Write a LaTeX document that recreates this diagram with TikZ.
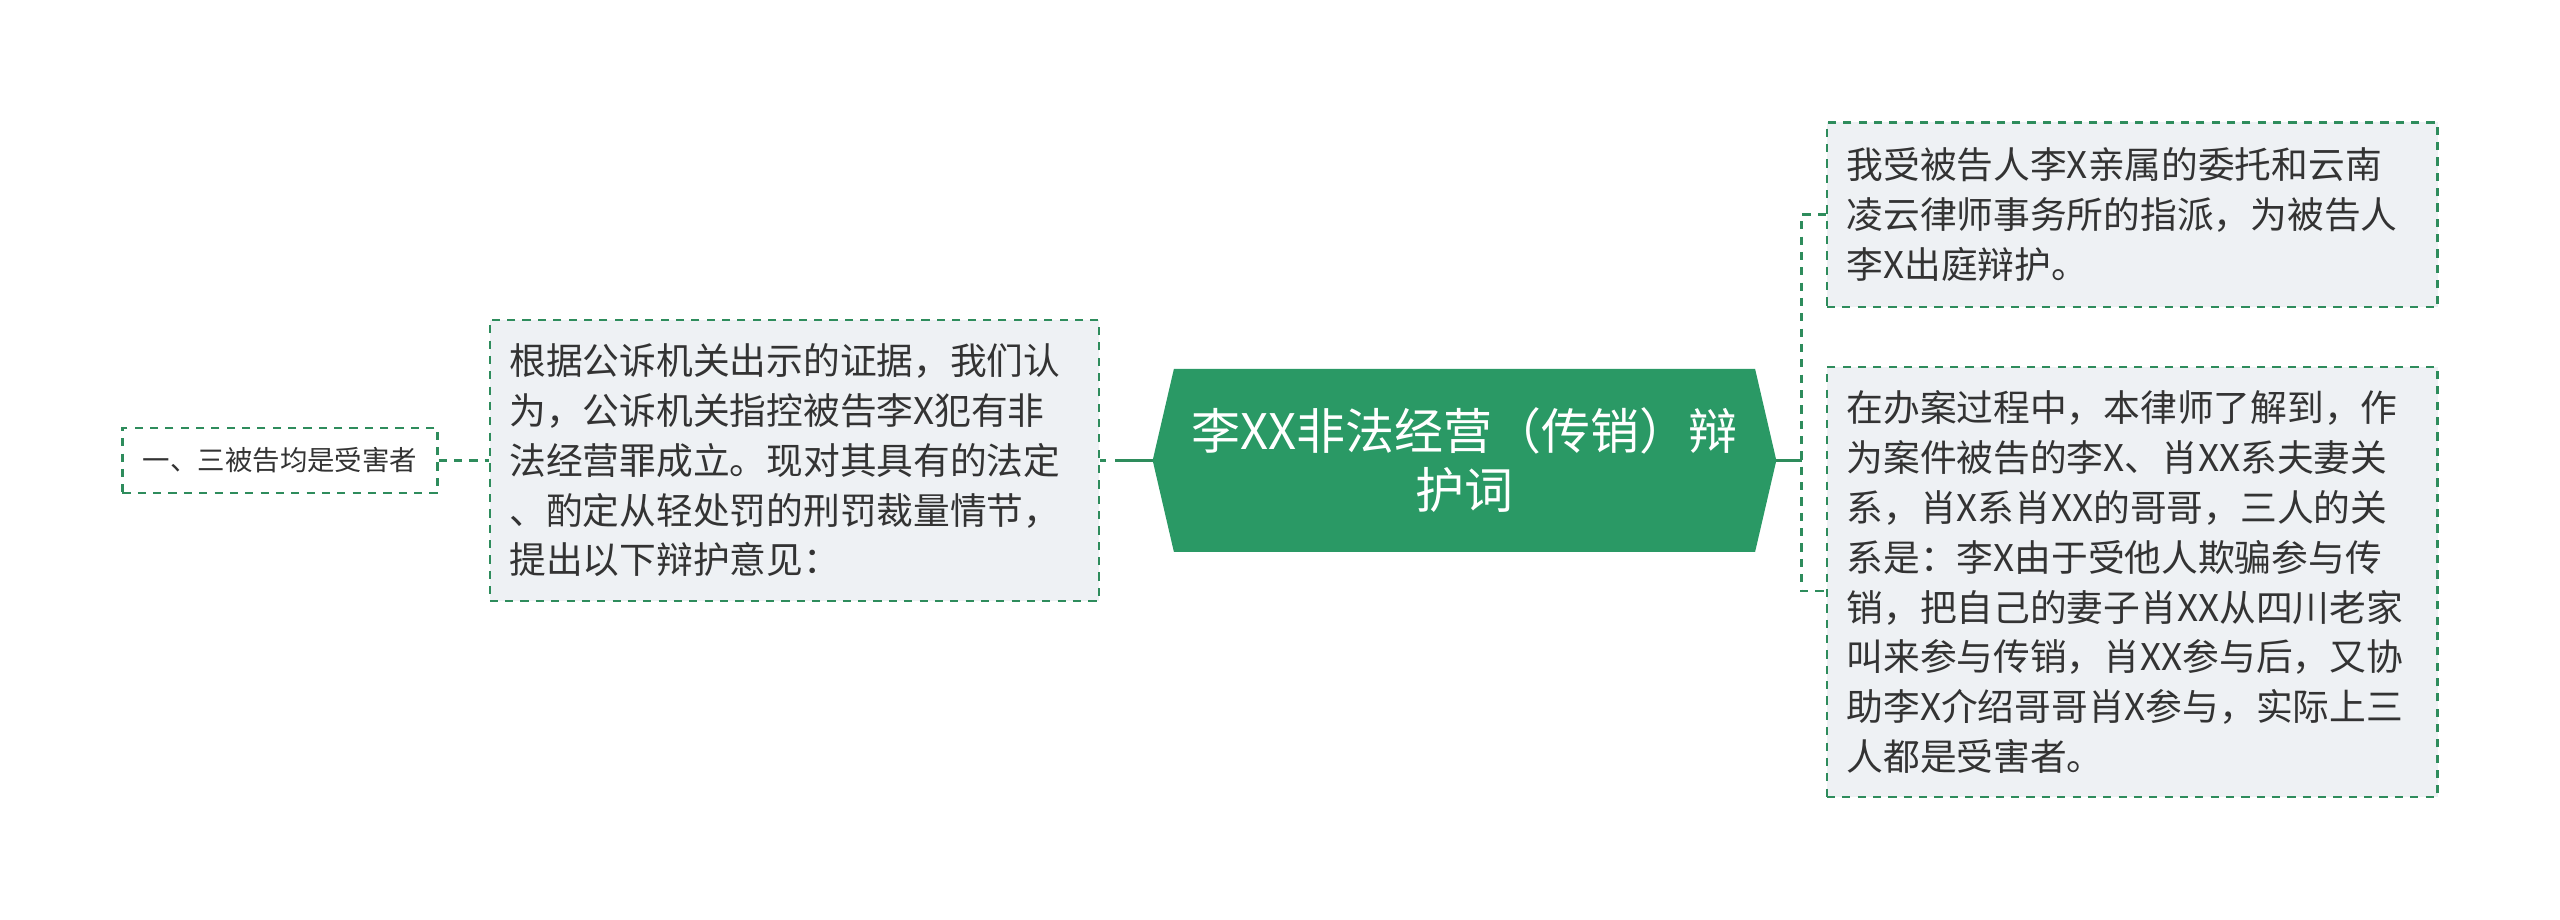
\documentclass[tikz,border=0pt]{standalone}
\usepackage{fontspec}
\setmainfont{Noto Sans CJK SC}
\definecolor{rootgreen}{RGB}{42,153,101}
\definecolor{linegreen}{RGB}{46,140,92}
\definecolor{boxfill}{RGB}{238,241,244}
\definecolor{txt}{RGB}{51,51,51}
\begin{document}
\begin{tikzpicture}[x=1pt,y=-1pt,
  dashbox/.style={draw=linegreen, line width=1.35pt, dash pattern=on 5pt off 4.4pt,
    rectangle, inner ysep=0pt, inner xsep=12pt, text=txt, align=left, anchor=center},
  bigbox/.style={dashbox, fill=boxfill, font=\fontsize{22.5}{30.5}\selectfont},
  smallbox/.style={dashbox, fill=white, inner xsep=10pt, font=\fontsize{16.8}{20}\selectfont},
  rootbox/.style={rectangle, inner sep=0pt, text=white, align=center,
    font=\fontsize{30}{36}\selectfont},
  conn/.style={draw=linegreen, line width=1.7pt},
  conndash/.style={draw=linegreen, line width=1.7pt, dash pattern=on 5pt off 4.4pt}
]
\useasboundingbox (0,0) rectangle (1568,563);

% root hexagon
\coordinate (rootW) at (706,282);
\coordinate (rootE) at (1088,282);
\coordinate (rNW) at (719,226);
\coordinate (rNE) at (1075,226);
\coordinate (rSE) at (1075,338);
\coordinate (rSW) at (719,338);
\fill[rootgreen] (rNW) -- (rNE) -- (rootE) -- (rSE) -- (rSW) -- (rootW) -- cycle;
\node[rootbox, minimum width=356, minimum height=112] (root) at (897,282)
  {李XX非法经营（传销）辩\\护词};

% left side
\node[bigbox, text width=349, minimum width=373, minimum height=172] (mid) at (486.5,282)
  {根据公诉机关出示的证据，我们认\\为，公诉机关指控被告李X犯有非\\法经营罪成立。现对其具有的法定\\、酌定从轻处罚的刑罚裁量情节，\\提出以下辩护意见：};
\node[smallbox, minimum width=193, minimum height=40] (small) at (171.5,282)
  {一、三被告均是受害者};

% right side
\node[bigbox, text width=350, minimum width=374, minimum height=113] (r1) at (1306,131.5)
  {我受被告人李X亲属的委托和云南\\凌云律师事务所的指派，为被告人\\李X出庭辩护。};
\node[bigbox, text width=350, minimum width=374, minimum height=263] (r2) at (1306,356.5)
  {在办案过程中，本律师了解到，作\\为案件被告的李X、肖XX系夫妻关\\系，肖X系肖XX的哥哥，三人的关\\系是：李X由于受他人欺骗参与传\\销，把自己的妻子肖XX从四川老家\\叫来参与传销，肖XX参与后，又协\\助李X介绍哥哥肖X参与，实际上三\\人都是受害者。};

% connectors
\coordinate (jL) at (683,282);
\coordinate (jR) at (1103.5,282);
\coordinate (r2in) at (1119,362);
\draw[conn] (rootW) -- (jL);
\draw[conn, dash pattern=on 4pt off 6pt] (mid.east) -- (jL);
\draw[conndash] (small.east) -- (mid.west);
\draw[conn] (rootE) -- (jR);
\draw[conndash] (r1.west) -| (jR) |- (r2in);
\end{tikzpicture}
\end{document}
